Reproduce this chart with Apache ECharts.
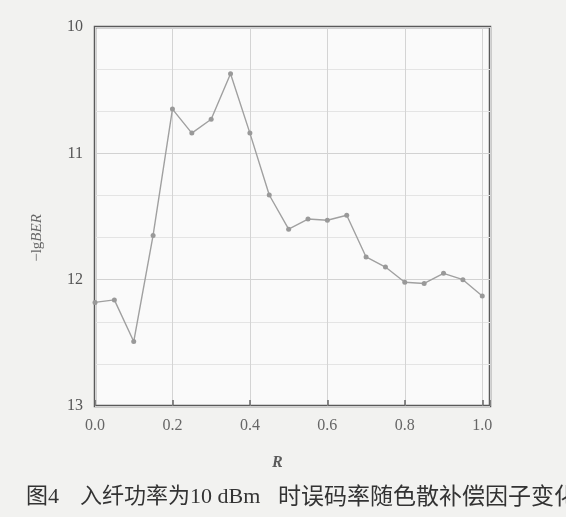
<!DOCTYPE html>
<html>
<head>
<meta charset="utf-8">
<script src="https://cdn.jsdelivr.net/npm/echarts@6/dist/echarts.min.js"></script>
<style>
html,body{margin:0;padding:0;background:#f2f2f0;}
#chart{width:566px;height:517px;}
</style>
</head>
<body>
<div id="chart"></div>
<script>
// Data
var rValues = [0.00, 0.05, 0.10, 0.15, 0.20, 0.25, 0.30, 0.35, 0.40, 0.45, 0.50,
               0.55, 0.60, 0.65, 0.70, 0.75, 0.80, 0.85, 0.90, 0.95, 1.00];
var lgBER = [12.18, 12.16, 12.49, 11.65, 10.65, 10.84, 10.73, 10.37, 10.84, 11.33, 11.60,
             11.52, 11.53, 11.49, 11.82, 11.90, 12.02, 12.03, 11.95, 12.00, 12.13];
var xTicks = ['0.0', '0.2', '0.4', '0.6', '0.8', '1.0'];
var yTicks = ['10', '11', '12', '13'];
var xName = 'R';
var yNamePlain = '\u2212lg';
var yNameItalic = 'BER';
var captionFig = '图4';
var captionA = '入纤功率为10 dBm';
var captionB = '时误码率随色散补偿因子变化';

var seriesData = rValues.map(function (r, i) { return [r, lgBER[i]]; });
var serif = '"Liberation Serif","DejaVu Serif",serif';
var cjk = '"Liberation Serif","Noto Sans CJK SC",serif';

var chart = echarts.init(document.getElementById('chart'));
chart.setOption({
  backgroundColor: '#f2f2f0',
  animation: false,
  grid: {
    left: 95, right: 76, top: 27, bottom: 111,
    show: true, backgroundColor: '#fafafa',
    borderColor: '#5a5a5a', borderWidth: 2.5
  },
  xAxis: {
    type: 'value', min: 0, max: 1.02, interval: 0.2,
    axisLine: { show: false },
    axisTick: { show: true, inside: true, length: 6, lineStyle: { color: '#666', width: 1.5 } },
    splitLine: { show: true, lineStyle: { color: '#d4d4d4', width: 1 } },
    axisLabel: {
      margin: 12, color: '#666', fontSize: 16, fontFamily: serif,
      formatter: function (v) {
        var k = Math.round(v / 0.2);
        if (Math.abs(v / 0.2 - k) > 1e-6 || k < 0 || k >= xTicks.length) return '';
        return xTicks[k];
      }
    }
  },
  yAxis: {
    type: 'value', min: 10, max: 13, interval: 1, inverse: true,
    axisLine: { show: false },
    axisTick: { show: false },
    minorTick: { show: false, splitNumber: 3 },
    minorSplitLine: { show: true, lineStyle: { color: '#e4e4e4', width: 1 } },
    splitLine: { show: true, lineStyle: { color: '#d2d2d2', width: 1 } },
    axisLabel: {
      margin: 12, color: '#555', fontSize: 16, fontFamily: serif,
      formatter: function (v) {
        var k = Math.round(v - 10);
        return yTicks[k] !== undefined ? yTicks[k] : '';
      }
    }
  },
  series: [{
    type: 'line',
    data: seriesData,
    symbol: 'circle',
    symbolSize: 5,
    lineStyle: { color: '#a0a0a0', width: 1.4 },
    itemStyle: { color: '#999' }
  }],
  graphic: [
    {
      type: 'text', left: 272, top: 455,
      style: { text: xName, font: 'italic bold 16px ' + serif, fill: '#5a5a5a' }
    },
    {
      type: 'text', x: 37, y: 238, rotation: Math.PI / 2,
      style: {
        text: '{a|' + yNamePlain + '}{b|' + yNameItalic + '}',
        align: 'center', verticalAlign: 'middle',
        rich: {
          a: { font: '15px ' + serif, fill: '#666' },
          b: { font: 'italic 15px ' + serif, fill: '#666' }
        }
      }
    },
    {
      type: 'text', left: 26, top: 486,
      style: { text: captionFig, font: '22px ' + cjk, fill: '#333' }
    },
    {
      type: 'text', left: 80, top: 486,
      style: { text: captionA, font: '22px ' + cjk, fill: '#333' }
    },
    {
      type: 'text', left: 278, top: 486,
      style: { text: captionB, font: '23px ' + cjk, fill: '#333' }
    }
  ]
});
</script>
</body>
</html>
